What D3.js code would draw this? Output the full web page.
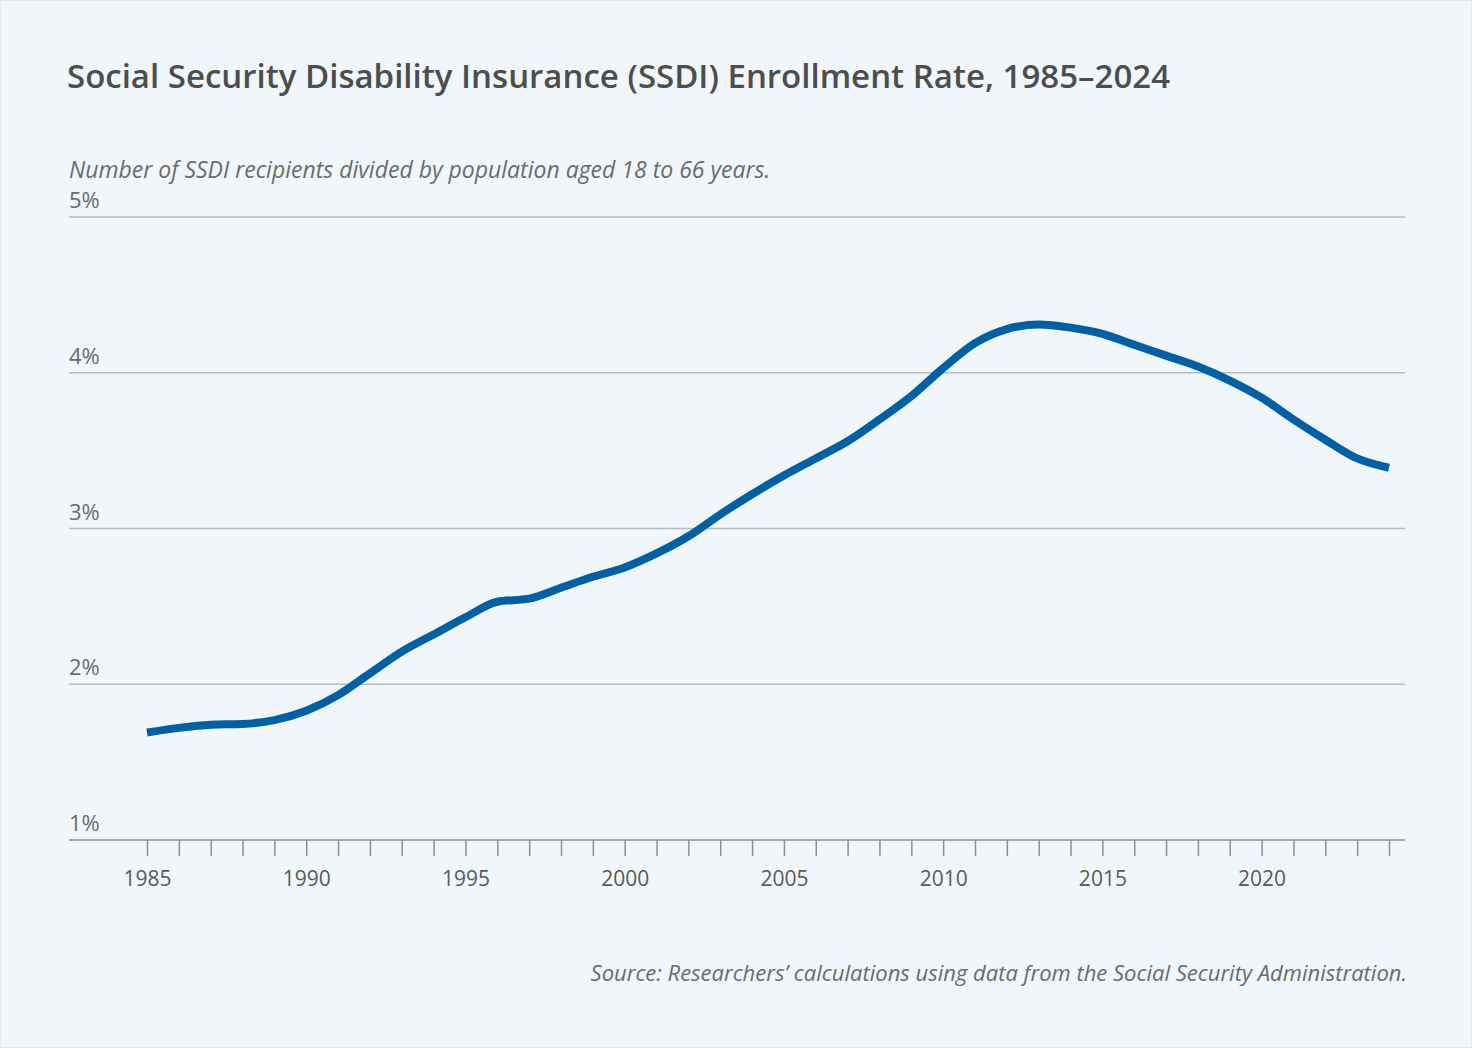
<!DOCTYPE html>
<html><head><meta charset="utf-8">
<script src="https://cdn.jsdelivr.net/npm/d3@7"></script>
<style>
body{margin:0;background:#fff;}
svg{display:block;font-family:"Source Sans Pro","Open Sans","Noto Sans",sans-serif;}
</style></head><body>
<svg id="chart" width="1472" height="1048"></svg>
<script>
// 数据
const years = d3.range(1985, 2025);
const rates = [1.69,1.72,1.74,1.745,1.77,1.83,1.93,2.07,2.21,2.32,2.43,2.53,2.55,2.62,2.69,2.75,2.84,2.95,3.09,3.22,
  3.34,3.45,3.56,3.70,3.85,4.03,4.19,4.28,4.31,4.29,4.25,4.18,4.11,4.04,3.95,3.84,3.70,3.57,3.45,3.39];
const yTicks = [1,2,3,4,5];
const xLabels = [1985,1990,1995,2000,2005,2010,2015,2020];

const svg = d3.select("#chart");
svg.append("rect").attr("x",0.5).attr("y",0.5).attr("width",1471).attr("height",1047)
  .attr("fill","#f1f6fa").attr("stroke","#e2e8ee");

svg.append("text").attr("x",67).attr("y",88).attr("font-size",33).attr("font-weight",600)
  .attr("fill","#4d4d4d").text("Social Security Disability Insurance (SSDI) Enrollment Rate, 1985–2024");
svg.append("text").attr("x",69).attr("y",178).attr("font-size",23).attr("font-style","italic")
  .attr("fill","#6b6b6b").text("Number of SSDI recipients divided by population aged 18 to 66 years.");

const x = d3.scaleLinear().domain([1985,2024]).range([147,1389]);
const y = d3.scaleLinear().domain([1,5]).range([840,217]);

// 网格线和y标签
yTicks.forEach(t => {
  if (t > 1) svg.append("line").attr("x1",69).attr("x2",1405).attr("y1",y(t)).attr("y2",y(t))
    .attr("stroke","#b5bcc2").attr("stroke-width",1.5);
  svg.append("text").attr("x",69).attr("y",y(t)-9).attr("font-size",22).attr("fill","#6b6b6b").text(t+"%");
});

// x轴
const xAxis = d3.axisBottom(x).tickValues(years).tickSize(16).tickFormat(d => xLabels.includes(d) ? d : "");
const gx = svg.append("g").attr("transform","translate(0,840)").call(xAxis);
gx.select(".domain").remove();
gx.selectAll("line").attr("stroke","#8a9096").attr("stroke-width",1.5);
gx.selectAll("text").attr("font-size",21).attr("fill","#5a5a5a").attr("dy","1.3em")
  .attr("font-family","'Source Sans Pro','Open Sans',sans-serif");
svg.append("line").attr("x1",69).attr("x2",1405).attr("y1",840).attr("y2",840)
  .attr("stroke","#8a9096").attr("stroke-width",1.5);

// 折线
const line = d3.line().x((d,i) => x(years[i])).y(d => y(d)).curve(d3.curveMonotoneX);
svg.append("path").datum(rates).attr("d",line).attr("fill","none")
  .attr("stroke","#0060a6").attr("stroke-width",8).attr("stroke-linejoin","round");

svg.append("text").attr("x",1407).attr("y",981).attr("text-anchor","end").attr("font-size",22)
  .attr("font-style","italic").attr("fill","#6b6b6b")
  .text("Source: Researchers’ calculations using data from the Social Security Administration.");
</script>
</body></html>
